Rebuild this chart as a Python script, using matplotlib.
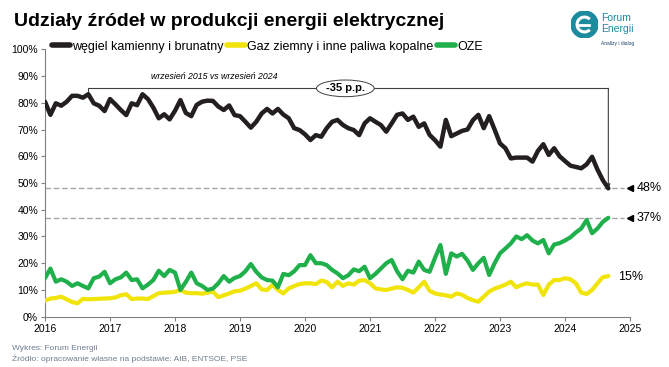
import numpy as np
import matplotlib
matplotlib.use("Agg")
import matplotlib.pyplot as plt
from matplotlib.patches import Circle, Arc
from matplotlib.transforms import blended_transform_factory
from matplotlib.ticker import PercentFormatter

plt.rcParams['font.family'] = ['Liberation Sans', 'DejaVu Sans']

# udzialy miesieczne, styczen 2016 - wrzesien 2024 [%]
wegiel = [
    80.4, 75.5, 79.8, 78.9, 80.4, 82.6, 82.6, 81.9, 83.2, 79.8, 78.9, 76.9,
    81.4, 79.4, 77.3, 75.4, 79.8, 79.1, 83.2, 81.4, 78.2, 74.2, 75.7, 73.8,
    77.0, 81.0, 76.2, 75.0, 79.2, 80.4, 80.8, 80.7, 78.6, 77.3, 79.0, 75.4,
    75.0, 72.9, 70.7, 72.9, 76.0, 77.7, 76.0, 77.7, 75.6, 74.2, 70.5, 69.8,
    68.2, 66.1, 67.9, 67.3, 70.5, 72.9, 73.6, 71.7, 70.5, 69.8, 67.9, 72.3,
    74.2, 72.9, 71.7, 69.2, 72.3, 75.5, 76.0, 73.6, 74.8, 71.0, 72.3, 68.0,
    66.0, 63.6, 73.6, 67.5, 68.5, 69.5, 70.0, 73.5, 75.5, 70.5, 75.0, 70.0,
    64.8, 63.0, 59.2, 59.5, 59.5, 59.5, 58.0, 62.0, 64.5, 60.5, 63.0, 60.0,
    58.2, 56.5, 56.0, 55.5, 57.0, 59.8, 55.0, 51.0, 48.0]
gaz = [
    6.0, 6.8, 7.0, 7.5, 6.5, 5.5, 5.0, 6.7, 6.5, 6.6, 6.7, 6.8,
    6.9, 7.2, 8.0, 8.4, 6.6, 6.8, 6.8, 6.6, 7.7, 8.8, 9.0, 9.1,
    9.3, 10.0, 9.0, 8.8, 8.8, 8.6, 9.0, 9.4, 7.3, 8.0, 8.7, 9.5,
    9.7, 10.5, 11.5, 12.5, 10.2, 10.0, 11.9, 10.0, 8.7, 10.6, 11.5, 12.2,
    12.5, 12.5, 12.2, 13.5, 13.0, 11.0, 13.1, 11.5, 12.5, 12.0, 13.5, 13.7,
    12.5, 10.6, 10.2, 10.0, 10.5, 11.0, 10.8, 10.0, 9.0, 11.0, 13.1, 9.7,
    8.7, 8.3, 8.0, 7.5, 8.7, 8.2, 7.0, 6.2, 5.6, 7.5, 9.4, 10.5,
    11.2, 12.0, 13.1, 11.0, 11.9, 12.5, 12.0, 12.0, 8.1, 12.0, 13.7, 13.7,
    14.4, 14.0, 12.5, 9.0, 8.5, 10.0, 12.5, 14.8, 15.2]
oze = [
    14.4, 18.0, 13.1, 14.0, 13.1, 11.5, 12.5, 11.5, 10.6, 14.4, 15.0, 16.8,
    12.5, 14.0, 14.7, 16.5, 13.7, 14.0, 10.6, 12.0, 13.7, 17.2, 15.2, 17.5,
    16.5, 10.0, 13.0, 16.5, 12.5, 11.5, 10.0, 10.5, 12.5, 15.2, 13.1, 14.5,
    15.2, 17.0, 19.7, 16.8, 14.7, 13.7, 13.5, 11.0, 16.0, 15.5, 17.0, 19.3,
    19.3, 23.0, 20.0, 20.0, 19.3, 17.5, 16.2, 14.4, 15.5, 17.7, 17.0, 18.7,
    14.4, 16.0, 18.0, 20.0, 21.2, 17.0, 14.0, 17.2, 16.5, 20.6, 17.5, 16.8,
    22.0, 26.8, 16.0, 23.7, 22.5, 23.5, 21.0, 17.5, 20.0, 22.0, 15.6, 20.0,
    23.7, 25.5, 27.4, 30.0, 29.0, 30.5, 28.5, 27.4, 28.7, 23.7, 27.0, 27.5,
    28.5, 29.7, 31.5, 33.0, 36.2, 31.2, 33.0, 35.5, 37.0]

lata = list(range(2016, 2026))
t = 2016 + np.arange(len(wegiel)) / 12.0
w = np.array(wegiel) / 100
g = np.array(gaz) / 100
o = np.array(oze) / 100

fig = plt.figure(figsize=(6.69, 3.67), dpi=100)
ax = fig.add_axes([45/669, 1-316.7/367, 585/669, 267.4/367])

# linie przerywane dla ostatnich wartosci
ax.axhline(w[-1], xmin=0, xmax=0.99, color='#a6a6a6', lw=1, ls=(0, (4, 2)), zorder=1)
ax.axhline(o[-1], xmin=0, xmax=0.99, color='#a6a6a6', lw=1, ls=(0, (4, 2)), zorder=1)

ax.plot(t, w, color='#231f20', lw=3.2, solid_capstyle='round', label='węgiel kamienny i brunatny', zorder=3)
ax.plot(t, g, color='#f0e40a', lw=3.0, solid_capstyle='round', label='Gaz ziemny i inne paliwa kopalne', zorder=3)
ax.plot(t, o, color='#1fb04b', lw=3.0, solid_capstyle='round', label='OZE', zorder=3)

ax.set_xlim(2016, 2025)
ax.set_ylim(0, 1)
ax.set_xticks(lata)
ax.set_yticks(np.arange(0, 1.01, 0.1))
ax.yaxis.set_major_formatter(PercentFormatter(1.0, decimals=0))
ax.tick_params(labelsize=7.5, length=3, color='#808080', pad=2)
for s in ['top', 'right']:
    ax.spines[s].set_visible(False)
for s in ['left', 'bottom']:
    ax.spines[s].set_color('#808080')

leg = ax.legend(loc='center left', bbox_to_anchor=(0.012, 1.01), ncol=3, frameon=False,
                fontsize=9, handlelength=1.4, handletextpad=0.2, columnspacing=0.3,
                borderpad=0, borderaxespad=0)
for h in leg.get_lines():
    h.set_linewidth(4)

# klamra: wrzesien 2016 vs wrzesien 2024
x0 = t[8]
x1 = t[-1]
ytop = 0.854
ax.plot([x0, x0, x1], [w[8] + 0.005, ytop, ytop], color='#404040', lw=0.8, zorder=2)
ax.annotate('', xy=(x1, w[-1]), xytext=(x1, ytop),
            arrowprops=dict(arrowstyle='-|>', color='#404040', lw=0.8, mutation_scale=6,
                            shrinkA=0, shrinkB=0), zorder=2)
ax.text(2018.6, 0.90, 'wrzesień 2015 vs wrzesień 2024', fontsize=6.3, style='italic',
        ha='center', va='center')
ax.text(2020.62, ytop, '-35 p.p.', fontsize=8, fontweight='bold', ha='center', va='center',
        bbox=dict(boxstyle='ellipse,pad=0.08', fc='white', ec='#404040', lw=0.7), zorder=4)

# etykiety po prawej
tr = blended_transform_factory(ax.transAxes, ax.transData)
for v in [w[-1], o[-1]]:
    ax.plot([1.0], [v], marker='<', color='black', ms=5, transform=tr, clip_on=False)
    ax.text(1.012, v, f'{v*100:.0f}%', fontsize=9, ha='left', va='center', transform=tr)
ax.text(0.979, g[-1] - 0.003, f'{g[-1]*100:.0f}%', fontsize=9, ha='left', va='center', transform=tr)

fig.text(14/669, 1-21/367, 'Udziały źródeł w produkcji energii elektrycznej', fontsize=14,
         fontweight='bold', ha='left', va='center')

# logo
lax = fig.add_axes([571/669, 1-38/367, 27/669, 27/367])
lax.set_xlim(0, 1)
lax.set_ylim(0, 1)
lax.axis('off')
lax.add_patch(Circle((0.5, 0.5), 0.5, color='#1b8b9d'))
lax.add_patch(Arc((0.5, 0.5), 0.55, 0.55, theta1=45, theta2=315, color='white', lw=2.2))
lax.plot([0.3, 0.66], [0.5, 0.5], color='white', lw=2)
fig.text(601/669, 1-18/367, 'Forum', fontsize=7.5, color='#1b8b9d', va='center')
fig.text(601/669, 1-29/367, 'Energii', fontsize=7.5, color='#1b8b9d', va='center')
fig.text(601/669, 1-43/367, 'Analizy i dialog', fontsize=3.5, color='#1d3f6e', va='center')

fig.text(12/669, 1-349/367, 'Wykres: Forum Energii', fontsize=6, color='#6f7f90', va='center')
fig.text(12/669, 1-359/367, 'Źródło: opracowanie własne na podstawie: AIB, ENTSOE, PSE',
         fontsize=6, color='#6f7f90', va='center')

fig.savefig('out.png', dpi=100)
